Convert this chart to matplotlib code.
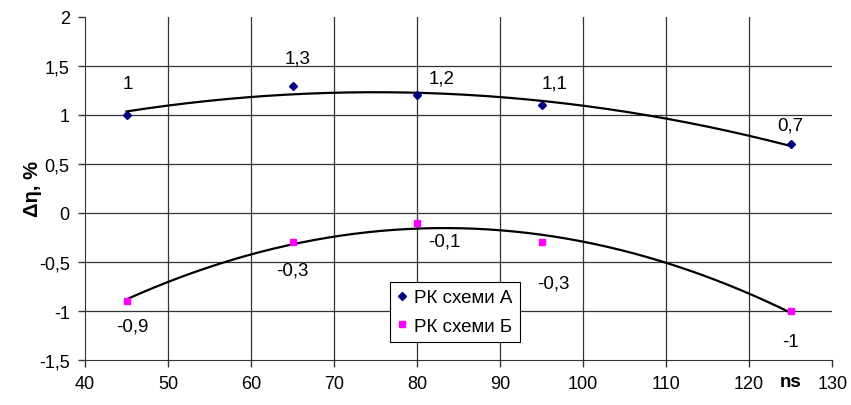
import numpy as np
import matplotlib.pyplot as plt
from matplotlib.ticker import FuncFormatter

plt.rcParams['font.family'] = ['Liberation Sans', 'DejaVu Sans']

x = [45, 65, 80, 95, 125]
ya = [1.0, 1.3, 1.2, 1.1, 0.7]
yb = [-0.9, -0.3, -0.1, -0.3, -1.0]
lab_a = ['1', '1,3', '1,2', '1,1', '0,7']
lab_b = ['-0,9', '-0,3', '-0,1', '-0,3', '-1']
# label offsets from the point, in pixels
off_a = [(1, 31), (5, 28), (25, 17), (13, 22), (0, 19)]
off_b = [(6, -25), (0, -28), (27, -18), (12, -41), (0, -30)]

fig = plt.figure(figsize=(8.51, 4.06), dpi=100)
ax = fig.add_axes([0.0999, 0.1108, 0.878, 0.845])

# trend lines: 2nd order polynomial fit
xx = np.linspace(45, 125, 200)
pa = np.polyfit(x, ya, 2)
pb = np.polyfit(x, yb, 2)
ax.plot(xx, np.polyval(pa, xx), color='black', lw=1.6, zorder=2)
ax.plot(xx, np.polyval(pb, xx), color='black', lw=1.6, zorder=2)

ax.plot(x, ya, 'D', color='#000080', ms=4.5, ls='none', label='РК схеми А', zorder=3)
ax.plot(x, yb, 's', color='#ff00ff', ms=5, ls='none', label='РК схеми Б', zorder=3)

for xi, yi, t, o in zip(x, ya, lab_a, off_a):
    ax.annotate(t, (xi, yi), xytext=(o[0] * 0.72, o[1] * 0.72), textcoords='offset points',
                ha='center', va='center', fontsize=13.5)
for xi, yi, t, o in zip(x, yb, lab_b, off_b):
    ax.annotate(t, (xi, yi), xytext=(o[0] * 0.72, o[1] * 0.72), textcoords='offset points',
                ha='center', va='center', fontsize=13.5)

ax.set_xlim(40, 130)
ax.set_ylim(-1.5, 2)
ax.set_xticks(np.arange(40, 131, 10))
ax.set_yticks(np.arange(-1.5, 2.01, 0.5))
fmt = FuncFormatter(lambda v, p: ('%g' % v).replace('.', ','))
ax.yaxis.set_major_formatter(fmt)
ax.xaxis.set_major_formatter(fmt)
ax.tick_params(labelsize=13, direction='out', length=5, width=1, color='#333333', pad=6)

for v in np.arange(50, 121, 10):
    ax.axvline(v, color='#333333', lw=0.9, zorder=1)
for v in np.arange(-1.0, 1.51, 0.5):
    ax.axhline(v, color='#333333', lw=0.9, zorder=1)

ax.spines['top'].set_visible(False)
ax.spines['right'].set_visible(False)
ax.spines['left'].set_color('#333333')
ax.spines['bottom'].set_color('#333333')

ax.set_ylabel('Δη, %', fontsize=14.5, fontweight='bold')
ax.yaxis.set_label_coords(-0.058, 0.5)
ax.text(0.945, -0.064, 'ns', transform=ax.transAxes, fontsize=13.5, fontweight='bold',
        ha='center', va='center')

leg = ax.legend(loc='lower left', bbox_to_anchor=(0.408, 0.052), fontsize=13.5, frameon=True,
                fancybox=False, edgecolor='black', framealpha=1, handlelength=0.5,
                handletextpad=0.4, borderpad=0.4, labelspacing=0.6, borderaxespad=0)
leg.get_frame().set_linewidth(0.8)

fig.savefig('out.png', dpi=100)
